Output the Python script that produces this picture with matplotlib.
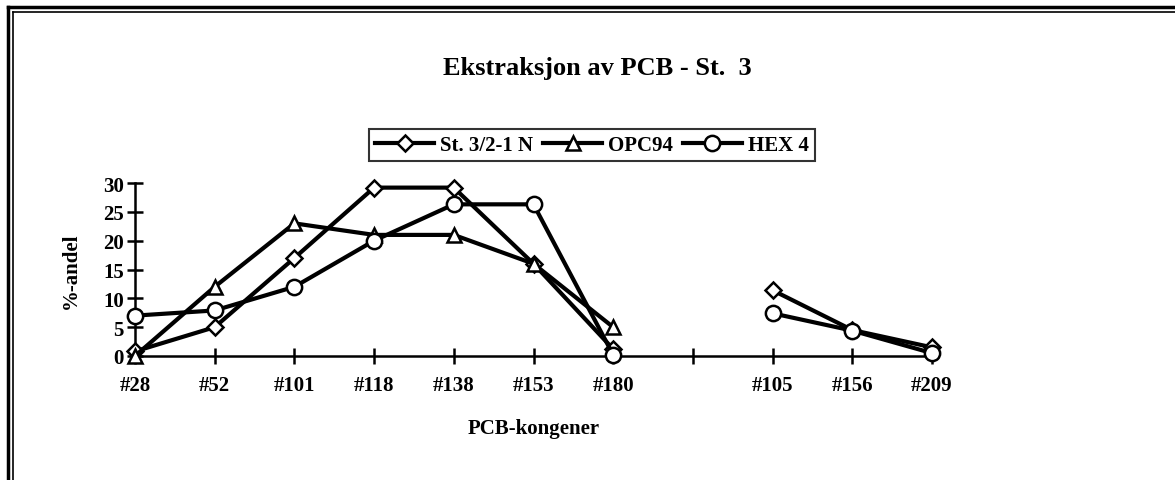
import numpy as np
import matplotlib.pyplot as plt
from matplotlib.lines import Line2D

# kongener (en tom plass mellom #180 og #105)
labels = ["#28", "#52", "#101", "#118", "#138", "#153", "#180", "", "#105", "#156", "#209"]
st3 = [0.8, 5, 17, 29.2, 29.2, 16, 1.2, None, 11.4, 4.5, 1.5]
opc94 = [0, 12, 23, 21, 21, 16, 5, None, None, None, None]
hex4 = [7, 7.9, 12, 20, 26.3, 26.3, 0.2, None, 7.4, 4.4, 0.5]

plt.rcParams['font.family'] = ['Liberation Serif', 'DejaVu Serif']
plt.rcParams['font.weight'] = 'bold'

fig = plt.figure(figsize=(11.75, 4.81), dpi=100)
ax = fig.add_axes([135 / 1175, 1 - 357 / 481, 797 / 1175, 173 / 481])

x = np.arange(len(labels))


def arr(v):
    return np.array([np.nan if a is None else a for a in v], dtype=float)


ax.plot(x, arr(st3), color='black', lw=3, marker='D', ms=8, mfc='white',
        mec='black', mew=1.8, clip_on=False, zorder=3, label='St. 3/2-1 N')
ax.plot(x, arr(opc94), color='black', lw=3, marker='^', ms=10, mfc='white',
        mec='black', mew=1.8, clip_on=False, zorder=3, label='OPC94')
ax.plot(x, arr(hex4), color='black', lw=3, marker='o', ms=11, mfc='white',
        mec='black', mew=1.8, clip_on=False, zorder=3, label='HEX 4')

ax.set_xlim(0, len(labels) - 1)
ax.set_ylim(0, 30)
ax.set_xticks(x)
ax.set_xticklabels(labels, fontsize=15, fontweight='bold')
ax.set_yticks(range(0, 31, 5))
ax.set_yticklabels([str(v) for v in range(0, 31, 5)], fontsize=15, fontweight='bold')
ax.tick_params(axis='both', direction='inout', length=12, width=1.8)
ax.tick_params(axis='x', pad=8)
ax.tick_params(axis='y', pad=2)
ax.spines['top'].set_visible(False)
ax.spines['right'].set_visible(False)
ax.spines['left'].set_linewidth(1.8)
ax.spines['bottom'].set_linewidth(1.8)

ax.set_xlabel("PCB-kongener", fontsize=15, fontweight='bold', labelpad=16)
ax.set_ylabel("%-andel", fontsize=15, fontweight='bold', labelpad=16)

fig.text(597 / 1175, 1 - 68 / 481, "Ekstraksjon av PCB - St.  3",
         ha='center', va='center', fontsize=19, fontweight='bold')

leg = fig.legend(loc='center', bbox_to_anchor=(592 / 1175, 1 - 146 / 481), ncol=3,
                 frameon=True, fancybox=False, edgecolor='black',
                 handlelength=2.8, columnspacing=0.5, handletextpad=0.3,
                 borderpad=0.3, prop={'weight': 'bold', 'size': 15})
leg.get_frame().set_linewidth(1.5)

# dobbel ramme rundt diagrammet
for off, lw in [(8, 2.5), (13, 1.2)]:
    fig.add_artist(Line2D([off / 1175, off / 1175], [0, 1 - off / 481], color='black', lw=lw))
    fig.add_artist(Line2D([off / 1175, 1], [1 - off / 481, 1 - off / 481], color='black', lw=lw))

fig.savefig("out.png", dpi=100)
